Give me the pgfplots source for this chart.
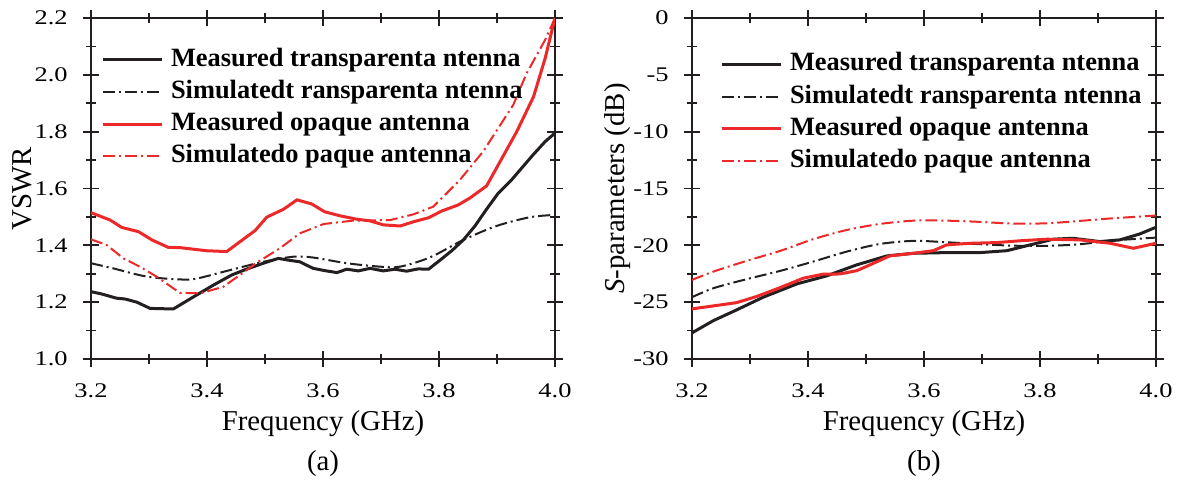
\documentclass[border=0pt]{standalone}
\usepackage{fontspec}
\setmainfont{Liberation Serif}
\newfontfamily\tickfont{Liberation Serif}[FakeStretch=1.27]
\usepackage{pgfplots}
\pgfplotsset{compat=1.18}
\definecolor{cblk}{RGB}{35,31,32}
\definecolor{cred}{RGB}{236,40,40}
\tikzset{
  meas/.style={line width=1.5pt},
  simu/.style={line width=1pt, dash pattern=on 6pt off 2pt on 1pt off 2pt},
}
\pgfplotsset{
 myaxis/.style={
  scale only axis, width=232pt, height=170.5pt, anchor=south west,
  xmin=3.2, xmax=4.0, xtick={3.2,3.4,3.6,3.8,4.0}, minor x tick num=1,
  tick align=center, tick pos=both, major tick length=8pt, minor tick length=5pt,
  axis line style={cblk, line width=1pt},
  every tick/.append style={cblk, line width=0.9pt},
  /pgf/number format/assume math mode=true,
  xticklabel style={font=\tickfont\fontsize{10.4}{12}\selectfont, anchor=center, yshift=-12pt, inner sep=0pt,
     /pgf/number format/fixed, /pgf/number format/fixed zerofill, /pgf/number format/precision=1},
  yticklabel style={font=\tickfont\fontsize{10.4}{12}\selectfont, anchor=east, xshift=-7.5pt, inner sep=0pt},
  label style={font=\fontsize{14.4}{17}\selectfont},
  xlabel style={at={(axis description cs:0.5,-0.19)}, anchor=center},
  legend cell align=left,
  legend image code/.code={\draw[##1] (0pt,0pt) -- (29.5pt,0pt); \path (33.5pt,0pt);},
  legend style={draw=none, fill=none, inner sep=0pt, outer sep=0pt, anchor=north west,
     font=\bfseries\fontsize{13.2}{15}\selectfont, row sep=3.6pt,
     nodes={inner sep=0pt, text height=9.5pt, text depth=3pt}},
 }
}
\begin{document}
\begin{tikzpicture}
\path[use as bounding box] (0,0) rectangle (589.5pt,240pt);
\begin{axis}[myaxis, name=A, at={(45.5pt,60.5pt)},
  ymin=1.0, ymax=2.2, ytick={1.0,1.2,1.4,1.6,1.8,2.0,2.2}, minor y tick num=1,
  yticklabel style={/pgf/number format/fixed, /pgf/number format/fixed zerofill, /pgf/number format/precision=1},
  xlabel={Frequency (GHz)}, ylabel={VSWR},
  ylabel style={at={(axis description cs:-0.1487,0.5)}, anchor=center},
  legend style={at={(axis description cs:0,1)}, xshift=5pt, yshift=-14.6pt},
]
\addplot[cblk, meas] coordinates {(3.200,1.237)(3.218,1.229)(3.244,1.214)(3.259,1.211)(3.279,1.200)(3.302,1.178)(3.342,1.176)(3.382,1.225)(3.411,1.260)(3.443,1.296)(3.468,1.316)(3.500,1.339)(3.523,1.354)(3.540,1.348)(3.560,1.342)(3.583,1.319)(3.603,1.311)(3.624,1.304)(3.641,1.316)(3.661,1.310)(3.681,1.319)(3.704,1.310)(3.724,1.316)(3.744,1.309)(3.764,1.317)(3.782,1.316)(3.802,1.348)(3.822,1.381)(3.842,1.419)(3.862,1.468)(3.882,1.527)(3.902,1.583)(3.925,1.630)(3.962,1.718)(3.983,1.765)(4.000,1.795)};
\addlegendentry{Measured transparenta ntenna}
\addplot[cblk, simu, smooth, tension=0.5] coordinates {(3.200,1.337)(3.238,1.319)(3.296,1.290)(3.353,1.280)(3.382,1.283)(3.440,1.313)(3.497,1.342)(3.549,1.360)(3.583,1.357)(3.641,1.337)(3.698,1.325)(3.733,1.325)(3.785,1.358)(3.842,1.419)(3.899,1.468)(3.957,1.499)(4.000,1.507)};
\addlegendentry{Simulatedt ransparenta ntenna}
\addplot[cred, meas] coordinates {(3.200,1.515)(3.233,1.489)(3.253,1.463)(3.282,1.448)(3.305,1.419)(3.333,1.393)(3.353,1.392)(3.399,1.381)(3.434,1.378)(3.457,1.413)(3.483,1.452)(3.503,1.499)(3.532,1.527)(3.555,1.560)(3.580,1.546)(3.603,1.518)(3.629,1.504)(3.658,1.492)(3.681,1.486)(3.704,1.472)(3.733,1.468)(3.756,1.483)(3.782,1.497)(3.805,1.521)(3.833,1.542)(3.853,1.566)(3.882,1.609)(3.894,1.653)(3.934,1.800)(3.963,1.923)(3.983,2.058)(4.000,2.200)};
\addlegendentry{Measured opaque antenna}
\addplot[cred, simu] coordinates {(3.200,1.421)(3.227,1.401)(3.256,1.354)(3.284,1.325)(3.313,1.290)(3.353,1.233)(3.388,1.231)(3.428,1.254)(3.457,1.296)(3.486,1.339)(3.526,1.390)(3.560,1.442)(3.601,1.475)(3.652,1.487)(3.716,1.489)(3.756,1.509)(3.790,1.536)(3.813,1.583)(3.836,1.630)(3.876,1.730)(3.928,1.894)(3.951,2.005)(3.983,2.123)(4.000,2.200)};
\addlegendentry{Simulatedo paque antenna}
\end{axis}
\node[font=\fontsize{14.4}{17}\selectfont] at ([yshift=-52.5pt]A.south) {(a)};

\begin{axis}[myaxis, name=B, at={(346pt,60.5pt)},
  ymin=-30, ymax=0, ytick={-30,-25,-20,-15,-10,-5,0}, minor y tick num=1,
  xlabel={Frequency (GHz)}, ylabel={\textit{S}-parameters (dB)},
  ylabel style={at={(axis description cs:-0.1595,0.5)}, anchor=center},
  legend style={at={(axis description cs:0,1)}, xshift=14pt, yshift=-17pt},
]
\addplot[cblk, meas] coordinates {(3.200,-27.7)(3.237,-26.62)(3.277,-25.68)(3.323,-24.56)(3.381,-23.39)(3.432,-22.69)(3.484,-21.72)(3.536,-20.93)(3.582,-20.70)(3.639,-20.64)(3.697,-20.64)(3.743,-20.47)(3.783,-19.96)(3.823,-19.46)(3.857,-19.38)(3.903,-19.67)(3.938,-19.52)(3.972,-19.0)(4.000,-18.41)};
\addlegendentry{Measured transparenta ntenna}
\addplot[cblk, simu, smooth, tension=0.5] coordinates {(3.200,-24.56)(3.237,-23.77)(3.294,-22.98)(3.352,-22.25)(3.409,-21.43)(3.467,-20.55)(3.524,-19.88)(3.582,-19.61)(3.639,-19.73)(3.697,-19.90)(3.754,-20.03)(3.812,-20.05)(3.869,-19.90)(3.926,-19.58)(4.000,-19.32)};
\addlegendentry{Simulatedt ransparenta ntenna}
\addplot[cred, meas] coordinates {(3.200,-25.59)(3.237,-25.33)(3.277,-25.04)(3.311,-24.51)(3.352,-23.72)(3.392,-22.89)(3.426,-22.54)(3.455,-22.52)(3.484,-22.23)(3.513,-21.58)(3.541,-20.93)(3.582,-20.70)(3.616,-20.47)(3.639,-19.96)(3.679,-19.82)(3.725,-19.76)(3.771,-19.58)(3.812,-19.46)(3.869,-19.52)(3.921,-19.82)(3.961,-20.26)(4.000,-19.82)};
\addlegendentry{Measured opaque antenna}
\addplot[cred, simu, smooth, tension=0.5] coordinates {(3.200,-23.04)(3.237,-22.31)(3.294,-21.37)(3.352,-20.49)(3.409,-19.46)(3.467,-18.65)(3.524,-18.12)(3.582,-17.83)(3.639,-17.83)(3.697,-17.94)(3.754,-18.09)(3.812,-18.06)(3.869,-17.85)(3.926,-17.62)(4.000,-17.38)};
\addlegendentry{Simulatedo paque antenna}
\end{axis}
\node[font=\fontsize{14.4}{17}\selectfont] at ([yshift=-52.5pt]B.south) {(b)};
\end{tikzpicture}
\end{document}
